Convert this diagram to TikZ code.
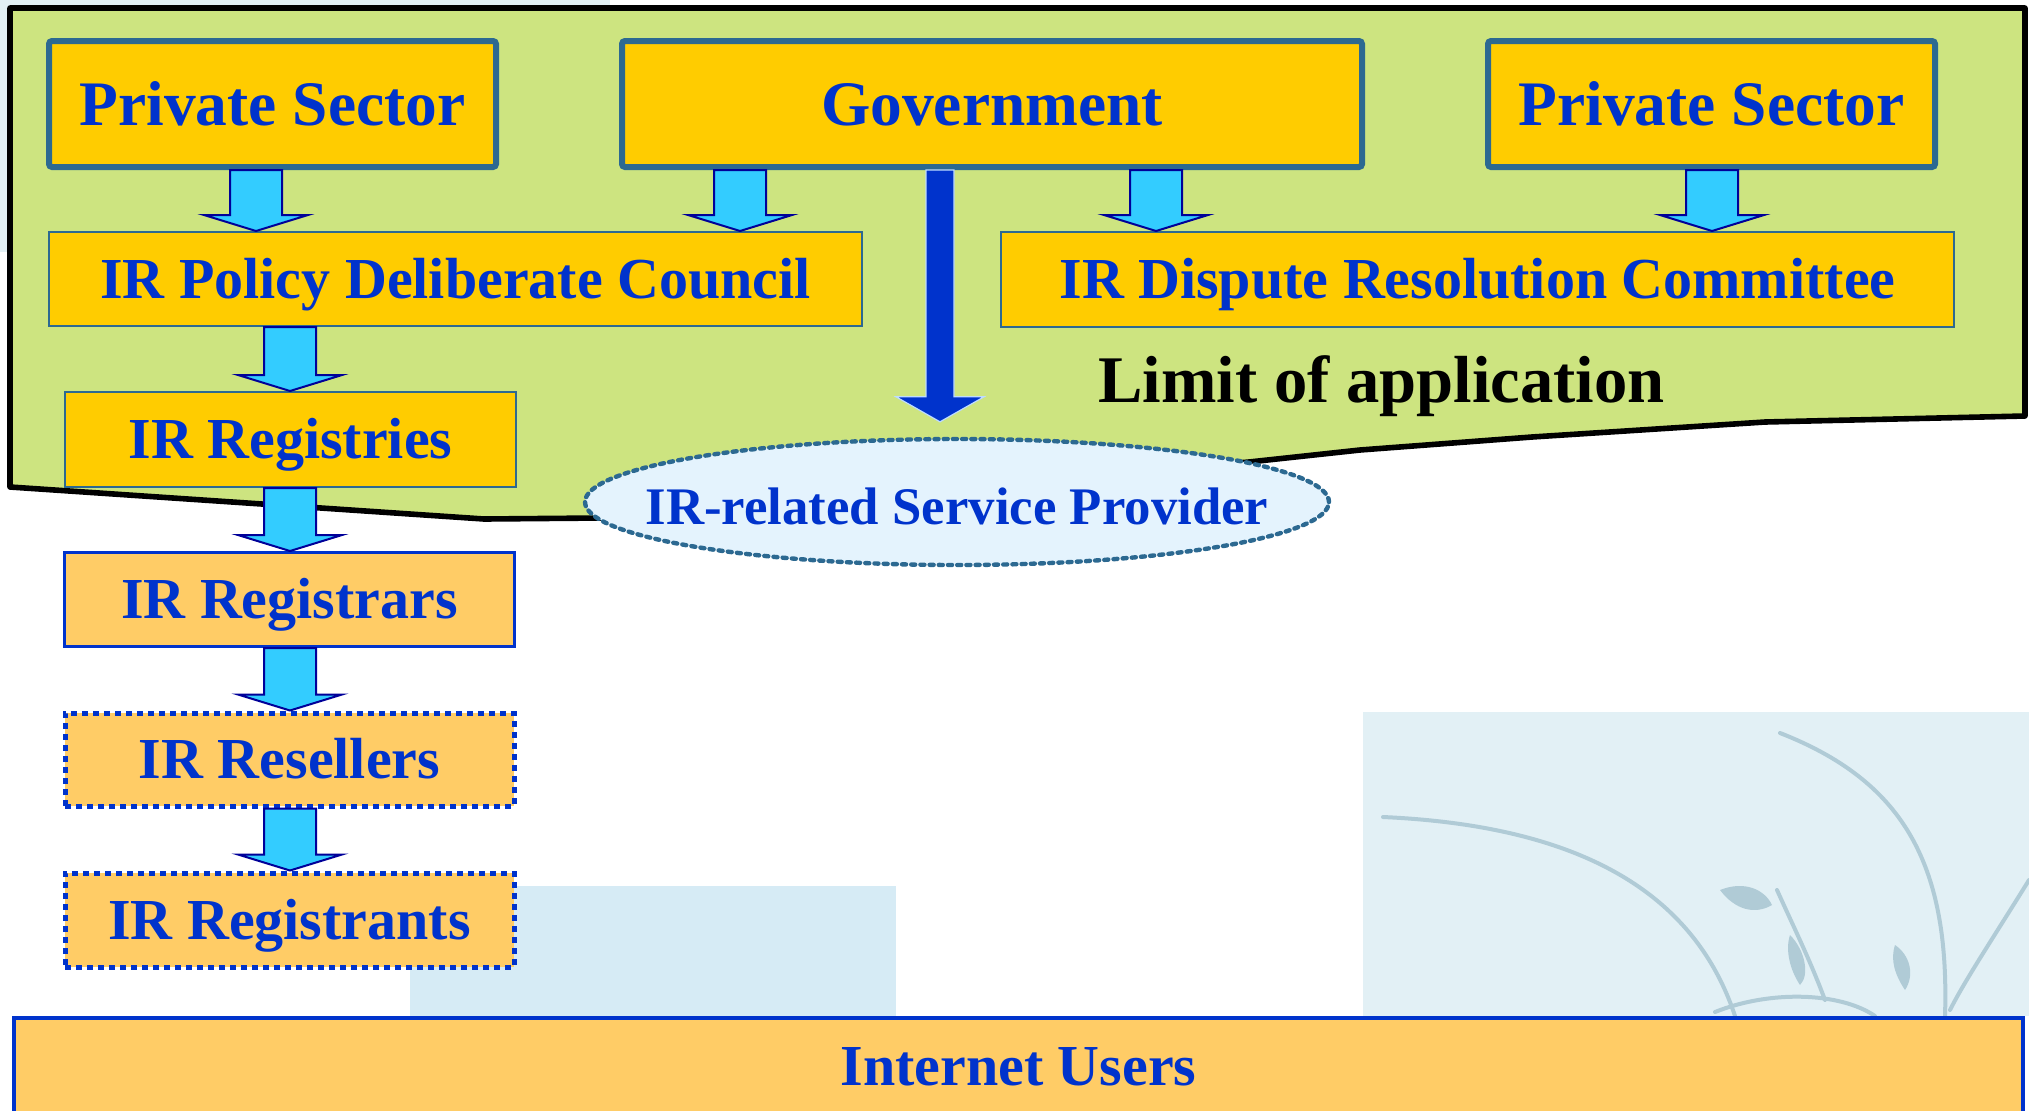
\documentclass[tikz,border=0pt]{standalone}
\usepackage{fontspec}
\setmainfont{Liberation Serif}
\usetikzlibrary{shapes.geometric,calc}

\definecolor{greenfill}{RGB}{205,228,128}
\definecolor{boxgold}{RGB}{255,204,0}
\definecolor{boxlight}{RGB}{255,204,102}
\definecolor{tealborder}{RGB}{44,105,145}
\definecolor{textblue}{RGB}{0,51,204}
\definecolor{arrowcyan}{RGB}{51,204,255}
\definecolor{arrownavy}{RGB}{0,0,153}
\definecolor{ellfill}{RGB}{228,243,253}
\definecolor{bgpatch}{RGB}{214,235,245}
\definecolor{bgpatchb}{RGB}{226,240,245}
\definecolor{leafcol}{RGB}{176,203,214}
\definecolor{arrowedge}{RGB}{190,220,255}

\tikzset{
  topbox/.style={draw=tealborder, line width=3pt, fill=boxgold, rounded corners=1.5pt,
    inner sep=0pt, text=textblue, font=\fontsize{31.7}{36}\selectfont\bfseries,
    text height=21pt, text depth=0pt},
  midbox/.style={draw=tealborder, line width=1pt, fill=boxgold, inner sep=0pt,
    text=textblue, font=\fontsize{29}{34}\selectfont\bfseries,
    text height=19.2pt, text depth=0pt},
  lowbox/.style={draw=textblue, line width=1.5pt, fill=boxlight, inner sep=0pt,
    text=textblue, font=\fontsize{29}{34}\selectfont\bfseries,
    text height=19.2pt, text depth=0pt},
  dotbox/.style={lowbox, line width=2.5pt, dash pattern=on 3pt off 2.5pt},
  blockarrow/.style={draw=arrownavy, line width=1pt, fill=arrowcyan, line join=miter},
  bigarrow/.style={draw=arrowedge, line width=0.6pt, fill=textblue},
  leafline/.style={draw=leafcol, line width=2pt, line cap=round},
}

\newcommand\blockarr[3]{%
  \path (#1,0 |- #2.south) coordinate (ba-s) (#1,0 |- #3.north) coordinate (ba-t);
  \draw[blockarrow] ($(ba-s)+(-26,0)$) -- ($(ba-t)+(-26,-16)$) -- ($(ba-t)+(-52,-16)$)
    -- (ba-t) -- ($(ba-t)+(52,-16)$) -- ($(ba-t)+(26,-16)$) -- ($(ba-s)+(26,0)$) -- cycle;
}

\begin{document}
\begin{tikzpicture}[x=0.5pt,y=-0.5pt]
\useasboundingbox (0,0) rectangle (2029,1110);
\fill[white] (0,0) rectangle (2029,1110);

% background patches
\fill[bgpatchb] (0,0) rectangle (610,252);
\fill[bgpatch] (410,886) rectangle (896,1016);
\fill[bgpatchb] (1363,712) rectangle (2029,1016);
\begin{scope}
  \clip (1363,712) rectangle (2029,1016);
  \draw[leafline] (1383,817) .. controls (1560,825) and (1690,880) .. (1735,1016);
  \draw[leafline] (1780,733) .. controls (1900,780) and (1950,860) .. (1945,1016);
  \draw[leafline] (2029,880) .. controls (1995,935) and (1965,980) .. (1950,1010);
  \draw[leafline] (1715,1012) .. controls (1770,990) and (1840,992) .. (1875,1016);
  \draw[leafline] (1777,890) .. controls (1795,930) and (1810,960) .. (1825,1000);
  \fill[leafcol] (1720,890) .. controls (1745,880) and (1765,890) .. (1772,905)
    .. controls (1755,915) and (1735,910) .. cycle;
  \fill[leafcol] (1790,935) .. controls (1805,950) and (1810,975) .. (1800,985)
    .. controls (1790,970) and (1785,950) .. cycle;
  \fill[leafcol] (1895,945) .. controls (1910,955) and (1915,975) .. (1905,990)
    .. controls (1895,975) and (1890,960) .. cycle;
\end{scope}

% limit of application region
\draw[fill=greenfill, line width=2.8pt, line join=round]
  (10,8) -- (2025,8) -- (2025,416) -- (1765,422) -- (1532,437) -- (1360,450)
  -- (1249,462) -- (600,518) -- (484,519) -- (10,487) -- cycle;

% top row
\node[topbox, minimum width=223.5pt, minimum height=63pt] (ps1) at (272.5,104) {Private Sector};
\node[topbox, minimum width=370pt, minimum height=63pt] (gov) at (992,104) {Government};
\node[topbox, minimum width=223.5pt, minimum height=63pt] (ps2) at (1711.5,104) {Private Sector};

% second row
\node[midbox, minimum width=406.5pt, minimum height=47pt] (council) at (455.5,279) {IR Policy Deliberate Council};
\node[midbox, minimum width=476.5pt, minimum height=47.5pt] (dispute) at (1477.5,279.5) {IR Dispute Resolution Committee};
\node[midbox, minimum width=225.5pt, minimum height=47.5pt] (registries) at (290.5,439.5) {IR Registries};

\node[anchor=base west, inner sep=0pt, font=\fontsize{33.3}{38}\selectfont\bfseries] (limit) at (1098,402) {Limit of application};

% ellipse
\node[ellipse, draw=tealborder, line width=2.2pt, dash pattern=on 2pt off 2.6pt, line cap=round,
  fill=ellfill, minimum width=372pt, minimum height=63pt, inner sep=0pt,
  label={[text=textblue, font=\fontsize{26.4}{30}\selectfont\bfseries, text height=17.5pt, text depth=0pt, yshift=-2.5pt]center:IR-related Service Provider}]
  (isp) at (957,502) {};

% lower chain
\node[lowbox, minimum width=225pt, minimum height=47pt] (registrars) at (289.5,599.5) {IR Registrars};
\node[dotbox, minimum width=224.5pt, minimum height=46.5pt] (resellers) at (289.5,759.5) {IR Resellers};
\node[dotbox, minimum width=224.5pt, minimum height=47pt] (registrants) at (289.5,920) {IR Registrants};
\node[lowbox, line width=2pt, minimum width=1004.5pt, minimum height=48pt] (users) at (1018.5,1066) {Internet Users};

% block arrows
\blockarr{256}{ps1}{council}
\blockarr{740}{gov}{council}
\blockarr{1156}{gov}{dispute}
\blockarr{1712}{ps2}{dispute}
\blockarr{290}{council}{registries}
\blockarr{290}{registries}{registrars}
\blockarr{290}{registrars}{resellers}
\blockarr{290}{resellers}{registrants}

% big arrow from government to service provider
\path (940,0 |- gov.south) coordinate (bg-s) ($(940,0 |- isp.north)+(0,-15)$) coordinate (bg-t);
\draw[bigarrow] ($(bg-s)+(-14,0)$) -- ($(bg-t)+(-14,-25)$) -- ($(bg-t)+(-44,-25)$)
  -- (bg-t) -- ($(bg-t)+(44,-25)$) -- ($(bg-t)+(14,-25)$) -- ($(bg-s)+(14,0)$) -- cycle;
\end{tikzpicture}
\end{document}
